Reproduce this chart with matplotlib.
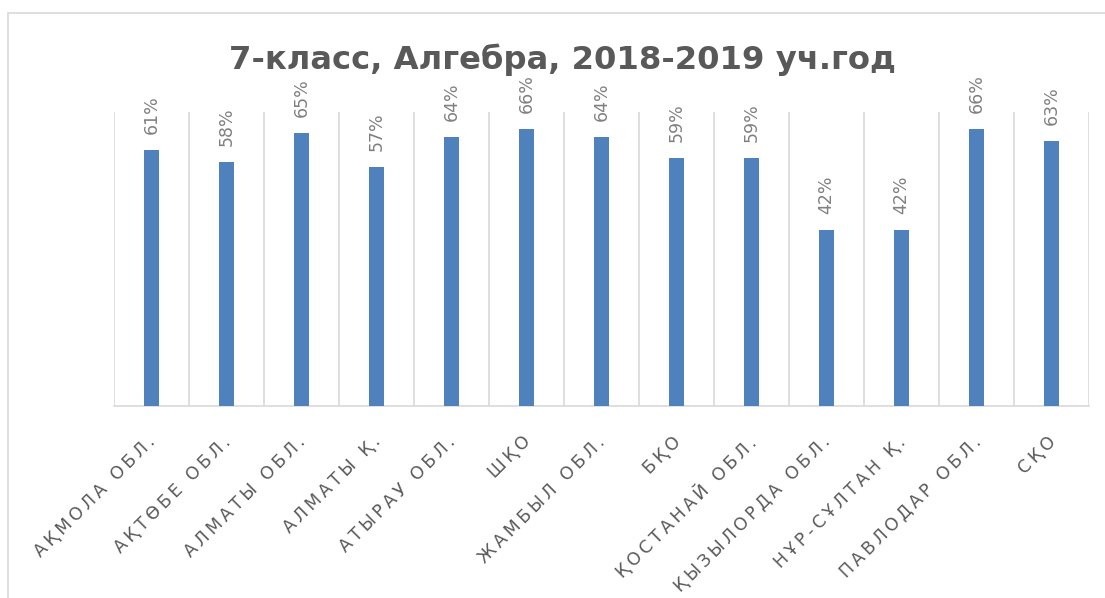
import numpy as np
import matplotlib
matplotlib.use("Agg")
import matplotlib.pyplot as plt
from matplotlib.patches import Rectangle
from matplotlib.transforms import ScaledTranslation

# data
regions = ["АҚМОЛА ОБЛ.", "АҚТӨБЕ ОБЛ.", "АЛМАТЫ ОБЛ.", "АЛМАТЫ Қ.", "АТЫРАУ ОБЛ.",
           "ШҚО", "ЖАМБЫЛ ОБЛ.", "БҚО", "ҚОСТАНАЙ ОБЛ.", "ҚЫЗЫЛОРДА ОБЛ.",
           "НҰР-СҰЛТАН Қ.", "ПАВЛОДАР ОБЛ.", "СҚО"]
scores = [0.61, 0.58, 0.65, 0.57, 0.64, 0.66, 0.64, 0.59, 0.59, 0.42, 0.42, 0.66, 0.63]
title = "7-класс, Алгебра, 2018-2019 уч.год"

W, H = 1105, 598
fig = plt.figure(figsize=(W / 100, H / 100), dpi=100)
fig.patch.set_facecolor("white")

# chart frame (cut off at right and bottom like in the screenshot)
fig.patches.append(Rectangle((8 / W, -0.1), 1.2, 1.1 - 13 / H, transform=fig.transFigure,
                             fill=False, edgecolor="#d9d9d9", linewidth=1.2))

ax = fig.add_axes([114 / W, 1 - 406 / H, (1089 - 114) / W, (406 - 112) / H])
x = np.arange(len(regions))
ax.bar(x, scores, width=0.19, color="#4f81bd", zorder=3)
ax.set_xlim(-0.5, len(regions) - 0.5)
ax.set_ylim(0, 0.70)

# vertical separators between categories
for b in np.arange(-0.5, len(regions), 1.0):
    ax.axvline(b, color="#d9d9d9", linewidth=1.2, zorder=1)

for s in ["top", "right", "left"]:
    ax.spines[s].set_visible(False)
ax.spines["bottom"].set_color("#d9d9d9")
ax.spines["bottom"].set_linewidth(1.2)
ax.set_yticks([])
ax.tick_params(axis="x", length=0)

spaced = ["\u2009".join(r) for r in regions]
ax.set_xticks(x)
ax.set_xticklabels(spaced, rotation=45, ha="right", va="top", rotation_mode="anchor",
                   fontsize=12.5, color="#595959")
for lbl in ax.get_xticklabels():
    lbl.set_transform(lbl.get_transform() + ScaledTranslation(-0.05, -0.22, fig.dpi_scale_trans))

for xi, v in zip(x, scores):
    ax.annotate(f"{v:.0%}", (xi, v), xytext=(0, 16), textcoords="offset pixels",
                rotation=90, ha="center", va="bottom", fontsize=12.5, color="#808080")

fig.text(562 / W, 1 - 60 / H, title, ha="center", va="center", fontsize=23.2,
         fontweight="bold", color="#595959")

fig.savefig("out.png", dpi=100)
